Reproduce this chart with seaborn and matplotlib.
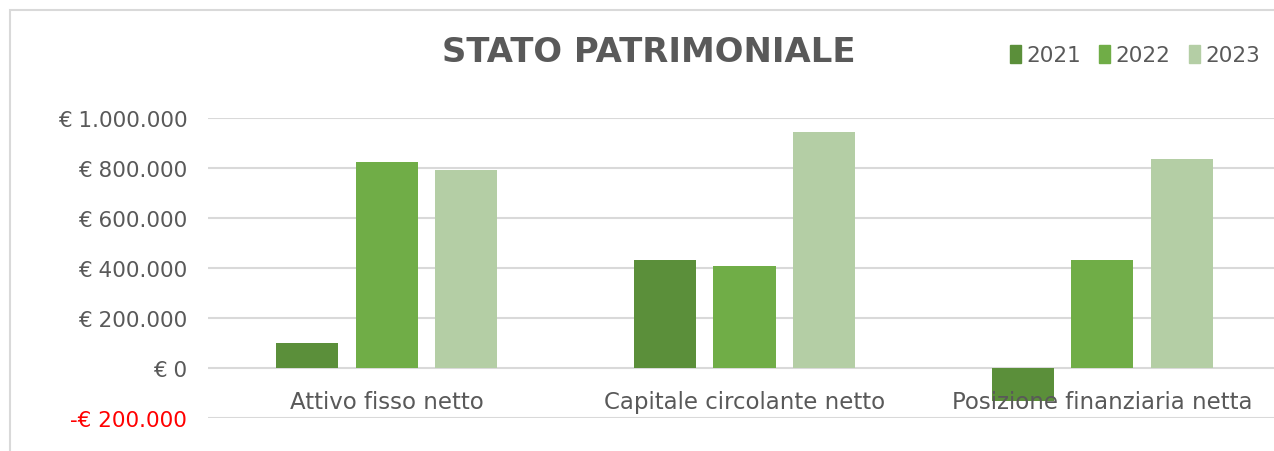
"""
Stato patrimoniale - barre raggruppate per anno
"""
from matplotlib import pyplot as plt
from matplotlib.patches import Rectangle
from matplotlib.ticker import FuncFormatter, MultipleLocator
import pandas as pd
import seaborn as sns

categorie = ['Attivo fisso netto', 'Capitale circolante netto', 'Posizione finanziaria netta']
anni = ['2021', '2022', '2023']
valori_2021 = [102000, 431000, -132000]
valori_2022 = [823000, 407000, 433000]
valori_2023 = [791000, 943000, 835000]
colori = ['#5b8f3a', '#70ad47', '#b4cea5']

df = pd.DataFrame({
    'categoria': categorie * 3,
    'anno': [a for a in anni for _ in categorie],
    'valore': valori_2021 + valori_2022 + valori_2023,
})

sns.set_style('white')
plt.rcParams['font.family'] = ['DejaVu Sans']
grigio = '#595959'

W, H = 1274, 452
fig = plt.figure(figsize=(W / 100, H / 100), dpi=100)
ax = fig.add_axes([208 / W, (H - 419) / H, 1073 / W, 300 / H])

sns.barplot(data=df, x='categoria', y='valore', hue='anno', palette=colori,
            width=0.667, gap=0.22, saturation=1, linewidth=0, ax=ax, legend=False)

ax.set_xlim(-0.5, 2.5)
ax.set_ylim(-200000, 1000000)
ax.yaxis.set_major_locator(MultipleLocator(200000))
ax.grid(axis='y', color='#d9d9d9', linewidth=1.5)
ax.set_axisbelow(True)
for s in ax.spines.values():
    s.set_visible(False)

def euro(v, pos):
    v = int(round(v))
    testo = f'{abs(v):,}'.replace(',', '.')
    return f'-€ {testo}' if v < 0 else f'€ {testo}'

ax.yaxis.set_major_formatter(FuncFormatter(euro))
ax.tick_params(axis='y', length=0, pad=15, labelsize=15.5, labelcolor=grigio)
fig.canvas.draw()
for lab in ax.get_yticklabels():
    if lab.get_text().startswith('-'):
        lab.set_color('#ff0000')

ax.set_xticks([])
ax.set_xlabel('')
ax.set_ylabel('')
for i, c in enumerate(categorie):
    ax.annotate(c, xy=(i, 0), xytext=(0, -24), textcoords='offset points',
                ha='center', va='center', fontsize=16.5, color=grigio)

fig.text(649 / W, 1 - 53 / H, 'STATO PATRIMONIALE', ha='center', va='center',
         fontsize=24.4, fontweight='bold', color=grigio)

handles = [Rectangle((0, 0), 1, 1, color=c) for c in colori]
fig.legend(handles, anni, loc='center', bbox_to_anchor=(1135 / W, 1 - 56 / H),
           ncol=3, frameon=False, fontsize=15.5, labelcolor=grigio,
           handlelength=0.5, handleheight=0.9, handletextpad=0.25, columnspacing=0.85)

fig.patches.append(Rectangle((10 / W, -0.1), 1.2, 1.1 - 11 / H, transform=fig.transFigure,
                             fill=False, edgecolor='#d9d9d9', linewidth=1.5))

plt.savefig('out.png', dpi=100)
